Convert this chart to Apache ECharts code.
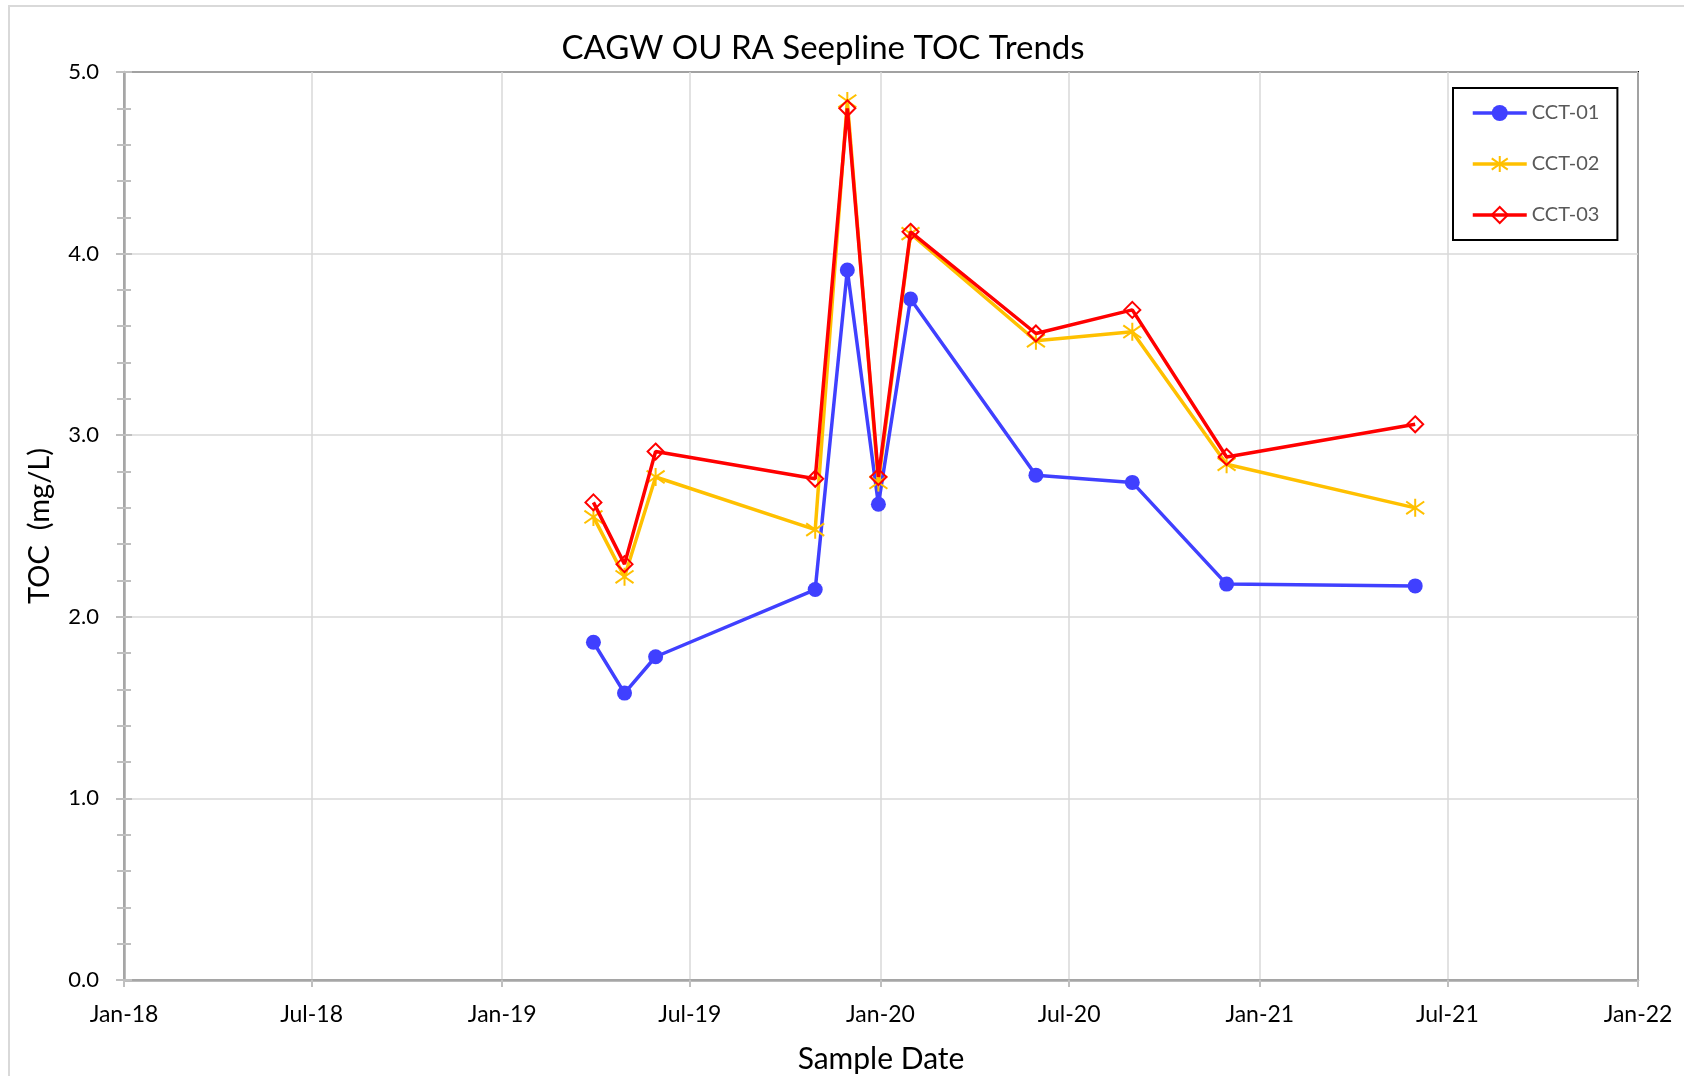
<!DOCTYPE html>
<html>
<head>
<meta charset="utf-8">
<script src="https://cdn.jsdelivr.net/npm/echarts@6/dist/echarts.min.js"></script>
<style>
  html, body { margin: 0; padding: 0; background: #fff; }
  #frame { position: absolute; left: 8px; top: 5px; width: 1700px; height: 1100px;
           border-left: 2px solid #D9D9D9; border-top: 2px solid #D9D9D9; box-sizing: border-box; }
  #chart { position: absolute; left: 0; top: 0; width: 1684px; height: 1076px; }
</style>
</head>
<body>
<div id="frame"></div>
<div id="chart"></div>
<script>
// ---- data ----
const sampleDates = ['2019-03-30','2019-04-29','2019-05-29','2019-10-30','2019-11-30','2019-12-30',
                     '2020-01-30','2020-05-30','2020-08-31','2020-11-30','2021-05-31'];
const cct01 = [1.86, 1.58, 1.78, 2.15, 3.91, 2.62, 3.75, 2.78, 2.74, 2.18, 2.17];
const cct02 = [2.55, 2.22, 2.77, 2.48, 4.84, 2.74, 4.11, 3.52, 3.57, 2.84, 2.60];
const cct03 = [2.63, 2.29, 2.91, 2.76, 4.80, 2.77, 4.12, 3.56, 3.69, 2.88, 3.06];
const tickDates = ['2018-01-01','2018-07-01','2019-01-01','2019-07-01','2020-01-01',
                   '2020-07-01','2021-01-01','2021-07-01','2022-01-01'];
const monthNames = ['Jan','Feb','Mar','Apr','May','Jun','Jul','Aug','Sep','Oct','Nov','Dec'];

function toTime(s) {
  const p = s.split('-').map(Number);
  return new Date(p[0], p[1] - 1, p[2]).getTime();
}
const tickValues = tickDates.map(toTime);
function pairs(vals) { return sampleDates.map((d, i) => [toTime(d), vals[i]]); }

const FONT = 'Lato';
const chart = echarts.init(document.getElementById('chart'), null, { renderer: 'canvas' });

const asterisk = 'path://M10,0L10,20M1,3L19,17M1,17L19,3';

chart.setOption({
  animation: false,
  backgroundColor: 'transparent',
  textStyle: { fontFamily: FONT },
  title: {
    text: 'CAGW OU RA Seepline TOC Trends',
    left: 818, top: 27, textAlign: 'center',
    textStyle: { fontFamily: FONT, fontSize: 33, fontWeight: 'normal', color: '#000' }
  },
  grid: { left: 124, right: 46, top: 72, bottom: 96, show: true,
          borderColor: '#000', borderWidth: 2, backgroundColor: 'transparent',
          containLabel: false, outerBoundsMode: 'none' },
  legend: {
    orient: 'vertical', left: 1453, top: 88,
    padding: [15, 18, 15, 18], itemGap: 31, itemWidth: 54, itemHeight: 20,
    borderColor: '#000', borderWidth: 2, backgroundColor: '#fff',
    lineStyle: { width: 3.5 },
    textStyle: { fontFamily: FONT, fontSize: 20, color: '#595959', lineHeight: 20 },
    data: ['CCT-01', 'CCT-02', 'CCT-03']
  },
  xAxis: {
    type: 'value', min: tickValues[0], max: tickValues[tickValues.length - 1],
    name: 'Sample Date', nameLocation: 'middle', nameGap: 64,
    nameTextStyle: { fontFamily: FONT, fontSize: 30, color: '#000' },
    axisLine: { show: true, lineStyle: { color: '#A6A6A6', width: 2.5 } },
    axisTick: { show: true, length: 7, customValues: tickValues, lineStyle: { color: '#BFBFBF', width: 2 } },
    axisLabel: { customValues: tickValues, margin: 23, fontFamily: FONT, fontSize: 23, color: '#000',
                 showMinLabel: true, showMaxLabel: true, hideOverlap: false,
                 formatter: function (v) {
                   const d = new Date(v);
                   return monthNames[d.getMonth()] + '-' + String(d.getFullYear()).slice(2);
                 } },
    splitLine: { show: true, lineStyle: { color: '#D9D9D9', width: 1.5 } },
    minorTick: { show: false }
  },
  yAxis: [{
    type: 'value', min: 0, max: 5, interval: 1,
    name: 'TOC  (mg/L)', nameLocation: 'middle', nameGap: 70, nameRotate: 90,
    nameTextStyle: { fontFamily: FONT, fontSize: 29, color: '#000' },
    axisLine: { show: true, lineStyle: { color: '#A6A6A6', width: 2.5 } },
    axisTick: { show: true, length: 8, lineStyle: { color: '#BFBFBF', width: 2 } },
    minorTick: { show: true, splitNumber: 5, length: 7, lineStyle: { color: '#BFBFBF', width: 2 } },
    axisLabel: { margin: 25, fontFamily: FONT, fontSize: 22, color: '#000',
                 formatter: function (v) { return v.toFixed(1); } },
    splitLine: { show: true, lineStyle: { color: '#D9D9D9', width: 1.5 } }
  }, {
    type: 'value', min: 0, max: 5, interval: 1, position: 'left', offset: 0,
    axisLine: { show: false },
    axisTick: { show: true, inside: true, length: 8, lineStyle: { color: '#BFBFBF', width: 2 } },
    minorTick: { show: true, splitNumber: 5, length: 7, lineStyle: { color: '#BFBFBF', width: 2 } },
    axisLabel: { show: false },
    splitLine: { show: false }
  }],
  series: [
    {
      name: 'CCT-01', type: 'line', data: pairs(cct01),
      symbol: 'circle', symbolSize: 15,
      lineStyle: { color: '#4040FF', width: 3.5 },
      itemStyle: { color: '#4040FF' }, z: 3
    },
    {
      name: 'CCT-02', type: 'line', data: pairs(cct02),
      symbol: asterisk, symbolSize: 18,
      lineStyle: { color: '#FFC000', width: 3.5 },
      itemStyle: { color: '#FFC000', borderColor: '#FFC000', borderWidth: 2 }, z: 4
    },
    {
      name: 'CCT-03', type: 'line', data: pairs(cct03),
      symbol: 'diamond', symbolSize: 16,
      lineStyle: { color: '#FF0000', width: 3.5 },
      itemStyle: { color: 'rgba(255,255,255,0)', borderColor: '#FF0000', borderWidth: 2 }, z: 5
    }
  ]
});
</script>
</body>
</html>
